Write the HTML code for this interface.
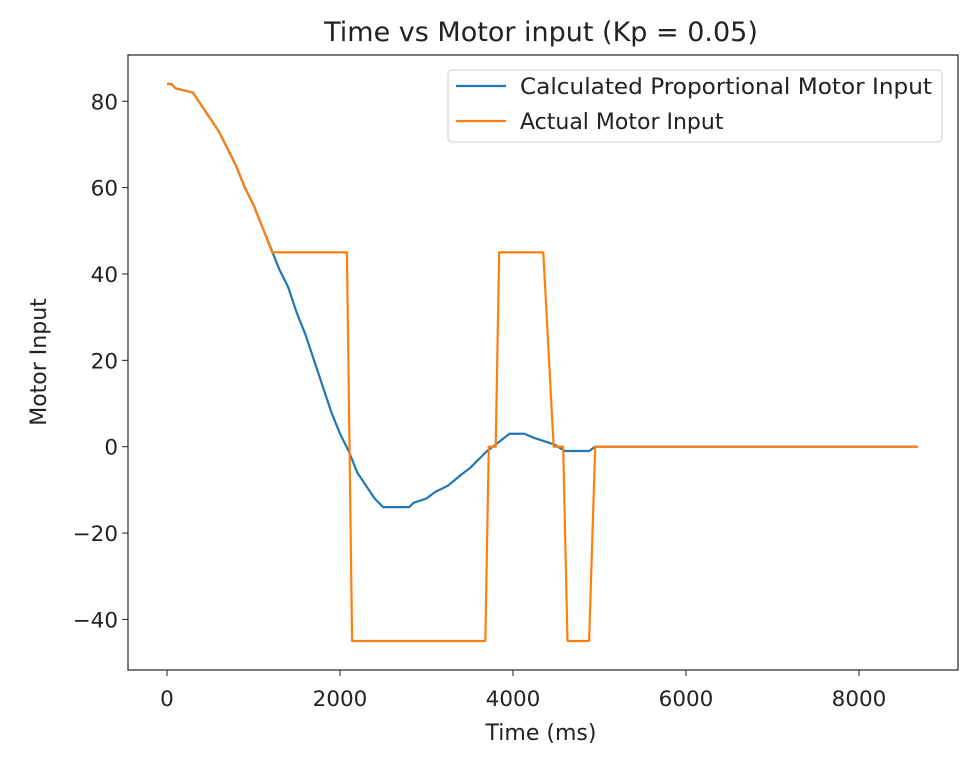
<!DOCTYPE html>
<html><head><meta charset="utf-8"><style>
body{margin:0;background:#fff;font-family:"Liberation Sans","DejaVu Sans",sans-serif}
svg text{font-family:"DejaVu Sans","Liberation Sans",sans-serif;fill:#222}
</style></head><body>
<svg id="chart" width="965" height="761">
<rect x="128" y="55" width="830" height="615" fill="#fff" stroke="#222" stroke-width="1.2"/>
<g id="ticks"></g>
<g id="series"></g>
<text x="541" y="41" font-size="27" text-anchor="middle">Time vs Motor input (Kp = 0.05)</text>
<text x="541" y="740" font-size="22" text-anchor="middle">Time (ms)</text>
<text x="46" y="362" font-size="22" text-anchor="middle" transform="rotate(-90 46 362)">Motor Input</text>
<g>
<rect x="448" y="70" width="494" height="72" rx="4" fill="#fff" stroke="#ccc"/>
<line x1="456" y1="86" x2="506" y2="86" stroke="#1f77b4" stroke-width="2.2"/>
<text x="520" y="94" font-size="22" textLength="412" lengthAdjust="spacingAndGlyphs">Calculated Proportional Motor Input</text>
<line x1="456" y1="121" x2="506" y2="121" stroke="#ff7f0e" stroke-width="2.2"/>
<text x="520" y="129" font-size="22">Actual Motor Input</text>
</g>
</svg>
<script>
const xTicks=[0,2000,4000,6000,8000];
const yTicks=[80,60,40,20,0,-20,-40];
const calcT=[0,50,100,200,300,400,500,600,700,800,900,1000,1100,1200,1300,1400,1500,1600,1700,1800,1900,2000,2100,2200,2300,2400,2500,2600,2800,2850,3000,3100,3250,3400,3500,3600,3700,3800,3960,4130,4250,4480,4600,4880,4950,8680];
const calcV=[84,84,83,82.5,82,79,76,73,69,65,60,56,51,46,41,37,31,26,20,14,8,3,-1,-6,-9,-12,-14,-14,-14,-13,-12,-10.5,-9,-6.5,-5,-3,-1,0.5,3,3,2,0.5,-1,-1,0,0];
const actT=[0,50,100,200,300,400,500,600,700,800,900,1000,1100,1215,2080,2140,3680,3720,3800,3840,4350,4470,4580,4630,4880,4950,8680];
const actV=[84,84,83,82.5,82,79,76,73,69,65,60,56,51,45,45,-45,-45,0,0,45,45,0,0,-45,-45,0,0];
const sx=t=>167+t*0.0865, sy=v=>446.7-v*4.318;
const NS="http://www.w3.org/2000/svg";
const tg=document.getElementById('ticks'), sg=document.getElementById('series');
function mk(tag,attrs,parent){const e=document.createElementNS(NS,tag);for(const k in attrs)e.setAttribute(k,attrs[k]);parent.appendChild(e);return e;}
xTicks.forEach(t=>{const x=sx(t);
 const l=mk('line',{x1:x,x2:x,y1:670,y2:676,stroke:'#222'},tg);
 
 
 const tx=mk('text',{x:x,y:706,'font-size':21.5,'text-anchor':'middle'},tg);tx.textContent=t;
 
 });
yTicks.forEach(v=>{const y=sy(v);
 const l=mk('line',{x1:122,x2:128,y1:y,y2:y,stroke:'#222'},tg);
 
 
 const tx=mk('text',{x:118,y:y+8,'font-size':21.5,'text-anchor':'end'},tg);tx.textContent=v<0?'\u2212'+(-v):v;
 
 });
function line(T,V,color,name){const p=mk('polyline',{points:T.map((t,i)=>sx(t)+','+sy(V[i])).join(' '),fill:'none',stroke:color,'stroke-width':2.2,'stroke-linejoin':'round'},sg);
 
 }
line(calcT,calcV,'#1f77b4','calculated-line');
line(actT,actV,'#ff7f0e','actual-line');
</script>
</body></html>
